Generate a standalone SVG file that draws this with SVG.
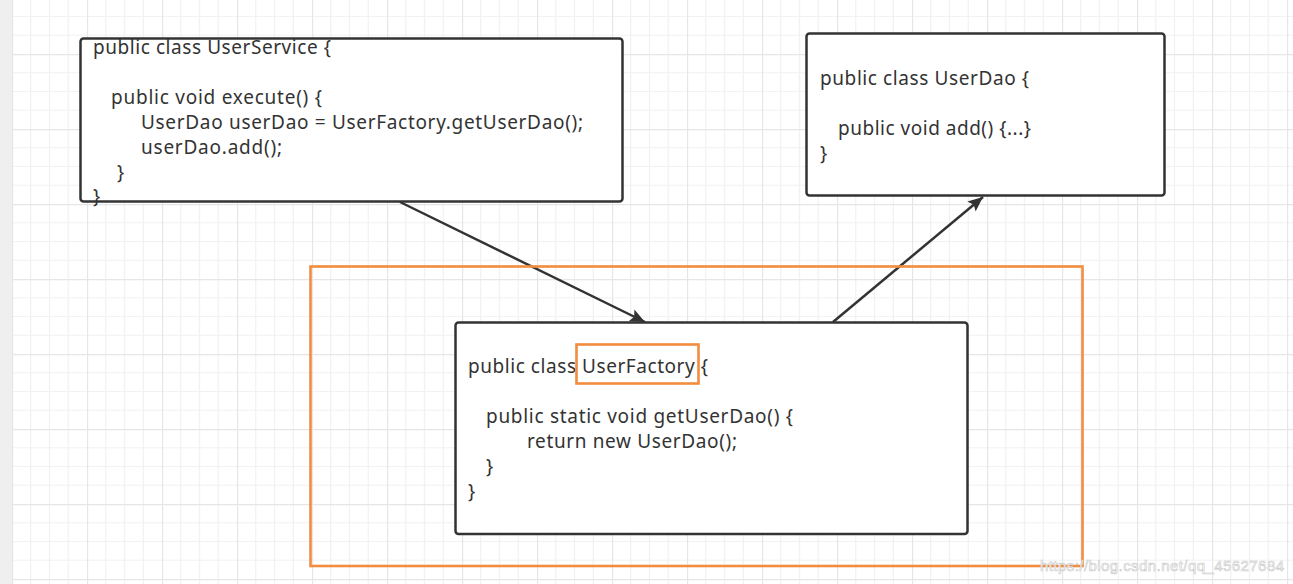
<svg xmlns="http://www.w3.org/2000/svg" width="1293" height="584" viewBox="0 0 1293 584">
  <style>
    .code { font-family: "Noto Sans", "Open Sans", "DejaVu Sans", sans-serif; font-size: 19px; fill: #333333; }
    .box { fill: #ffffff; stroke: none; }
    .boxline { fill: none; stroke: #333333; stroke-width: 2.5; }
    .conn { fill: none; stroke: #333333; stroke-width: 2.5; }
    .hl { fill: none; stroke: #F28C3F; stroke-width: 2.6; }
    .wm { font-family: "Liberation Sans", Arial, sans-serif; font-size: 15px; fill: #ffffff; stroke: #c8c8c8; stroke-width: 0.6; }
  </style>
  <defs>
    <pattern id="grid" patternUnits="userSpaceOnUse" x="12" y="-21" width="75" height="75">
      <rect width="75" height="75" fill="#ffffff"/>
      <path d="M18.75,0V75M37.5,0V75M56.25,0V75M0,18.75H75M0,37.5H75M0,56.25H75" stroke="#f2f2f2" stroke-width="1.2"/>
      <path d="M0.5,0V75M0,0.5H75" stroke="#e6e6e6" stroke-width="1.3"/>
    </pattern>
    <marker id="arrow" viewBox="-1 -7 17 14" refX="15" refY="0" markerWidth="17" markerHeight="14" markerUnits="userSpaceOnUse" orient="auto">
      <path d="M0,-6.5 L15,0 L0,6.5 L3,0 Z" fill="#333333"/>
    </marker>
  </defs>

  <rect x="0" y="0" width="1293" height="584" fill="url(#grid)"/>
  <rect x="0" y="0" width="12" height="584" fill="#efefef"/>

  <g id="connectors">
    <line class="conn" x1="400" y1="202" x2="645" y2="322" marker-end="url(#arrow)"/>
    <line class="conn" x1="833" y1="322" x2="983" y2="197" marker-end="url(#arrow)"/>
  </g>

  <g id="factory-highlight">
    <rect class="hl" x="310.5" y="266.5" width="772" height="299.5"/>
  </g>

  <g id="UserService">
    <rect class="box" x="80.5" y="38.5" width="542" height="163" rx="3"/>
    <text class="code" x="93" y="53.5" textLength="238">public class UserService {</text>
    <text class="code" x="111" y="103.5" textLength="211">public void execute() {</text>
    <text class="code" x="141" y="128.5" textLength="442">UserDao userDao = UserFactory.getUserDao();</text>
    <text class="code" x="141" y="153.5" textLength="141">userDao.add();</text>
    <text class="code" x="117" y="178.5">}</text>
    <text class="code" x="93" y="203">}</text>
    <rect class="boxline" x="80.5" y="38.5" width="542" height="163" rx="3"/>
  </g>

  <g id="UserDao">
    <rect class="box" x="806.5" y="33.5" width="358" height="162" rx="3"/>
    <text class="code" x="820" y="85" textLength="209">public class UserDao {</text>
    <text class="code" x="838" y="135" textLength="193">public void add() {...}</text>
    <text class="code" x="820" y="160">}</text>
    <rect class="boxline" x="806.5" y="33.5" width="358" height="162" rx="3"/>
  </g>

  <g id="UserFactory">
    <rect class="box" x="455.5" y="322.5" width="512" height="211.5" rx="3"/>
    <text class="code" x="468" y="373" textLength="240">public class UserFactory {</text>
    <text class="code" x="486" y="423" textLength="307">public static void getUserDao() {</text>
    <text class="code" x="527" y="448" textLength="210">return new UserDao();</text>
    <text class="code" x="486" y="473">}</text>
    <text class="code" x="468" y="498">}</text>
    <rect class="boxline" x="455.5" y="322.5" width="512" height="211.5" rx="3"/>
  </g>

  <g id="UserFactory-highlight">
    <rect class="hl" x="576.5" y="344.5" width="122" height="39"/>
  </g>

  <text class="wm" x="1040" y="571" textLength="244">https://blog.csdn.net/qq_45627684</text>
</svg>
